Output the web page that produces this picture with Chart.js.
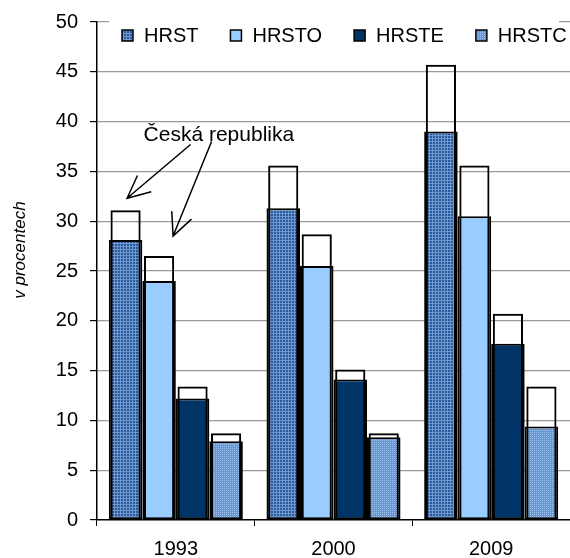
<!DOCTYPE html>
<html>
<head>
<meta charset="utf-8">
<script src="https://cdn.jsdelivr.net/npm/chart.js@4.4.1/dist/chart.umd.min.js"></script>
<style>
  html, body { margin: 0; padding: 0; background: #ffffff; }
  #wrap { width: 570px; height: 558px; position: relative; }
</style>
</head>
<body>
<div id="wrap"><canvas id="chart"></canvas></div>
<script>
// ---------------- DATA ----------------
const categories = ['1993', '2000', '2009'];
const seriesNames = ['HRST', 'HRSTO', 'HRSTE', 'HRSTC'];
// filled bars
const hrstValues  = [28.1, 31.3, 39.0];
const hrstoValues = [24.0, 25.5, 30.5];
const hrsteValues = [12.2, 14.1, 17.7];
const hrstcValues = [7.9, 8.3, 9.4];
// outlined (white) bars – Česká republika
const czHrstValues  = [31.1, 35.6, 45.7];
const czHrstoValues = [26.5, 28.7, 35.6];
const czHrsteValues = [13.4, 15.1, 20.7];
const czHrstcValues = [8.7, 8.7, 13.4];
const yMin = 0, yMax = 50, yStep = 5;
const yAxisTitle = 'v procentech';
const annotationText = 'Česká republika';
const annotationValue = 38.6;

// ---------------- STYLES ----------------
const FONT = '"Liberation Sans", Arial, Helvetica, sans-serif';

function makePattern(bg, fg, kind) {
  const t = document.createElement('canvas');
  const n = kind === 'grid' ? 3 : 2;
  t.width = n; t.height = n;
  const g = t.getContext('2d');
  g.fillStyle = bg; g.fillRect(0, 0, n, n);
  g.fillStyle = fg;
  if (kind === 'grid') {
    g.fillRect(0, 0, n, 1);
    g.fillRect(0, 0, 1, n);
  } else {
    g.fillRect(0, 0, 1, 1);
  }
  return g.createPattern(t, 'repeat');
}

const fills = [
  makePattern('#2a5a9a', '#6e98cf', 'grid'),
  '#99ccff',
  '#003366',
  makePattern('#6797d3', '#9fc2ec', 'dots')
];

const filledValues = [hrstValues, hrstoValues, hrsteValues, hrstcValues];
const outlineValues = [czHrstValues, czHrstoValues, czHrsteValues, czHrstcValues];

const datasets = [];
outlineValues.forEach((vals, i) => {
  datasets.push({
    label: 'ČR ' + seriesNames[i],
    data: vals,
    stack: 's' + i,
    backgroundColor: 'rgba(0,0,0,0)',
    borderColor: '#000000',
    borderWidth: 2,
    borderSkipped: false,
    categoryPercentage: 0.85,
    barPercentage: 0.9,
    order: 0,
    isOutline: true
  });
});
filledValues.forEach((vals, i) => {
  datasets.push({
    label: seriesNames[i],
    data: vals,
    stack: 's' + i,
    backgroundColor: fills[i],
    borderColor: '#000000',
    borderWidth: 2,
    borderSkipped: false,
    categoryPercentage: 0.85,
    barPercentage: 1.0,
    order: 1
  });
});

// ---------------- PLUGIN: legend, axis title, annotation ----------------
function arrow(ctx, x1, y1, x2, y2) {
  ctx.beginPath();
  ctx.moveTo(x1, y1);
  ctx.lineTo(x2, y2);
  const ang = Math.atan2(y1 - y2, x1 - x2);
  const L = 25, a = 0.44;
  ctx.moveTo(x2 + L * Math.cos(ang - a), y2 + L * Math.sin(ang - a));
  ctx.lineTo(x2, y2);
  ctx.lineTo(x2 + L * Math.cos(ang + a), y2 + L * Math.sin(ang + a));
  ctx.stroke();
}

const decorPlugin = {
  id: 'decor',
  afterDatasetsDraw(chart) {
    const { ctx, chartArea } = chart;
    const yScale = chart.scales.y;
    ctx.save();

    // legend background + items
    ctx.fillStyle = '#ffffff';
    ctx.fillRect(chartArea.left + 12, chartArea.top - 3, chartArea.right - chartArea.left - 23, 28);
    ctx.font = '20px ' + FONT;
    ctx.textBaseline = 'middle';
    ctx.textAlign = 'left';
    const cy = chartArea.top + 13.5;
    let x = chartArea.left + 25;
    const filledSets = chart.data.datasets.filter(d => !d.isOutline);
    filledSets.forEach((ds) => {
      ctx.fillStyle = ds.backgroundColor;
      ctx.fillRect(x, cy - 5.5, 11, 11);
      ctx.lineWidth = 1.5;
      ctx.strokeStyle = '#000';
      ctx.strokeRect(x, cy - 5.5, 11, 11);
      ctx.fillStyle = '#000';
      ctx.fillText(ds.label, x + 22, cy + 1);
      x += 22 + ctx.measureText(ds.label).width + 32;
    });

    // y axis title
    ctx.save();
    ctx.translate(20, chartArea.top + (chartArea.bottom - chartArea.top) * 0.458);
    ctx.rotate(-Math.PI / 2);
    ctx.font = 'italic 17px ' + FONT;
    ctx.textAlign = 'center';
    ctx.textBaseline = 'middle';
    ctx.fillStyle = '#000';
    ctx.fillText(yAxisTitle, 0, 0);
    ctx.restore();

    // annotation
    const b0 = chart.getDatasetMeta(0).data[0];
    const b1 = chart.getDatasetMeta(1).data[0];
    const tx = b0.x + 18;
    const ty = yScale.getPixelForValue(annotationValue);
    ctx.font = '21px ' + FONT;
    ctx.textAlign = 'left';
    ctx.textBaseline = 'middle';
    ctx.fillStyle = '#000';
    ctx.fillText(annotationText, tx, ty);
    ctx.strokeStyle = '#000';
    ctx.lineWidth = 1.5;
    arrow(ctx, tx + 47, ty + 9, b0.x + 1.5, b0.y - 12);
    arrow(ctx, tx + 68, ty + 6, b1.x + 14, b1.y - 20);

    ctx.restore();
  }
};

// ---------------- CHART ----------------
new Chart(document.getElementById('chart'), {
  type: 'bar',
  data: { labels: categories, datasets },
  plugins: [decorPlugin],
  options: {
    responsive: true,
    maintainAspectRatio: false,
    animation: false,
    layout: { padding: { top: 0, right: 0, bottom: 0, left: 0 } },
    plugins: {
      legend: { display: false },
      tooltip: { enabled: false }
    },
    scales: {
      x: {
        type: 'category',
        grid: {
          offset: true,
          drawOnChartArea: false,
          drawTicks: true,
          tickLength: 6,
          tickColor: '#000',
          color: '#000'
        },
        border: { display: true, color: '#000', width: 1.5 },
        ticks: { color: '#000', font: { family: FONT, size: 20 }, padding: 11 },
        afterFit(scale) { scale.height = 38; }
      },
      y: {
        stacked: false,
        min: yMin,
        max: yMax,
        grid: {
          color: (c) => (c.tick && c.tick.value === yMin) ? 'rgba(0,0,0,0)' : '#9a9a9a',
          borderDash: [10, 6],
          tickBorderDash: [],
          tickColor: '#000',
          tickLength: 7,
          lineWidth: 1.2
        },
        border: { display: true, color: '#000', width: 1.5 },
        ticks: {
          stepSize: yStep,
          color: '#000',
          font: { family: FONT, size: 20, lineHeight: 1.0 },
          padding: 12
        },
        afterFit(scale) { scale.width = 97; }
      }
    }
  }
});
</script>
</body>
</html>
